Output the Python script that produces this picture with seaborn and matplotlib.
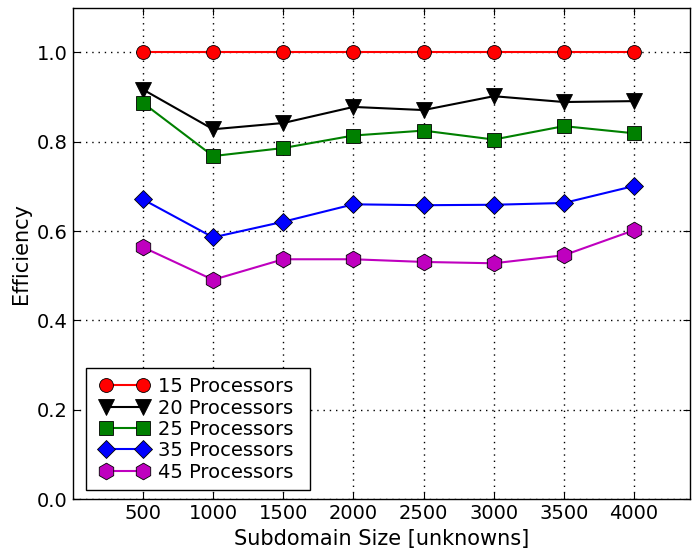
import pandas as pd
import seaborn as sns
import matplotlib
matplotlib.use("Agg")
import matplotlib.pyplot as plt
from matplotlib.lines import Line2D
from matplotlib.legend_handler import HandlerLine2D

# data
sizes = [500, 1000, 1500, 2000, 2500, 3000, 3500, 4000]
eff_15 = [1.0, 1.0, 1.0, 1.0, 1.0, 1.0, 1.0, 1.0]
eff_20 = [0.917, 0.828, 0.842, 0.878, 0.871, 0.902, 0.889, 0.891]
eff_25 = [0.887, 0.768, 0.786, 0.814, 0.825, 0.805, 0.835, 0.819]
eff_35 = [0.671, 0.586, 0.621, 0.660, 0.658, 0.659, 0.663, 0.701]
eff_45 = [0.564, 0.491, 0.537, 0.537, 0.531, 0.528, 0.546, 0.602]
labels = ["15 Processors", "20 Processors", "25 Processors", "35 Processors", "45 Processors"]

sns.set_style("ticks")
plt.rcParams["font.family"] = ["DejaVu Sans"]
# seaborn greys the text, the reference is plain black
for k in ["text.color", "axes.labelcolor", "xtick.color", "ytick.color"]:
    plt.rcParams[k] = "black"

df = pd.DataFrame({"size": sizes * 5,
                   "eff": eff_15 + eff_20 + eff_25 + eff_35 + eff_45,
                   "procs": [l for l in labels for _ in sizes]})

colors = ["red", "black", "green", "blue", "m"]
markers = ["o", "v", "s", "D", "h"]
msizes = [10, 11, 10, 9, 12]

fig = plt.figure(figsize=(6.93, 5.54), dpi=100)
ax = fig.add_axes([0.105, 0.099, 0.891, 0.887])

for lab, c, m, ms in zip(labels, colors, markers, msizes):
    sub = df[df["procs"] == lab]
    sns.lineplot(data=sub, x="size", y="eff", ax=ax, color=c, marker=m,
                 markersize=ms, markeredgecolor="black", markeredgewidth=0.6,
                 linewidth=1.5, label=lab)

ax.set_xlim(0, 4400)
ax.set_ylim(0, 1.1)
ax.set_xticks(sizes)
ax.set_yticks([0.0, 0.2, 0.4, 0.6, 0.8, 1.0])
ax.set_yticklabels(["0.0", "0.2", "0.4", "0.6", "0.8", "1.0"])
ax.grid(True, color="black", linestyle=(0, (1, 3.5)), linewidth=1)
ax.tick_params(direction="in", top=True, right=True, length=5, labelsize=14)
for s in ax.spines.values():
    s.set_color("black")
    s.set_linewidth(1)
ax.set_xlabel("Subdomain Size [unknowns]", fontsize=15)
ax.set_ylabel("Efficiency", fontsize=15)

# legend: box stretched to the reference width
leg = ax.legend(loc="lower left", bbox_to_anchor=(0.021, 0.018, 0.364, 0),
                mode="expand", borderaxespad=0,
                numpoints=2, fontsize=14, fancybox=False, framealpha=1,
                edgecolor="black", handlelength=3.1, labelspacing=0.12,
                handletextpad=0.15, borderpad=0.45,
                handler_map={Line2D: HandlerLine2D(marker_pad=0.6)})
leg.get_frame().set_linewidth(1)

fig.savefig("out.png", dpi=100)
